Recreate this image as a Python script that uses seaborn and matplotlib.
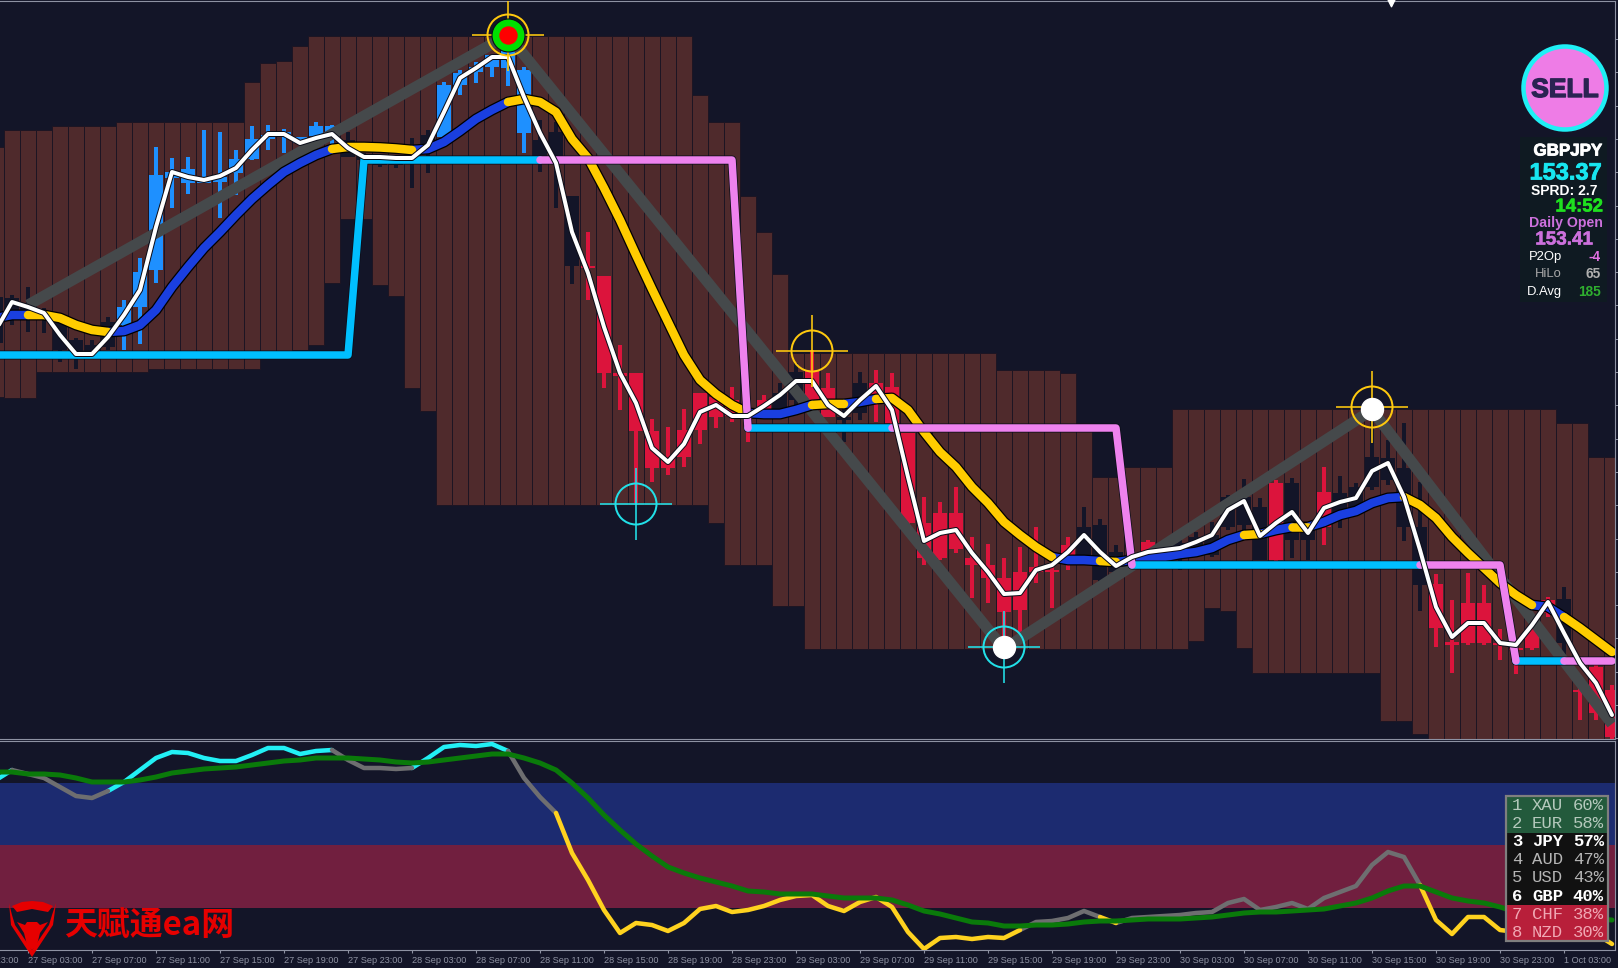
import matplotlib
matplotlib.use("Agg")
import matplotlib.patheffects as pe
import matplotlib.pyplot as plt
import numpy as np
import seaborn as sns
from matplotlib.patches import Circle, Polygon, Rectangle

# bars run from index -1 (cut off at the left edge) to 100, one bar per hour
bars = list(range(-1, 101))

# cloud behind the candles, read as chart rows (row 0 = top of window)
cloud_top = [147, 130, 130, 130, 126, 126, 126, 126, 122, 122, 122, 122, 122, 122, 122, 122, 82, 63, 61, 46,
             36, 36, 36, 36, 36, 36, 36, 36, 36, 36, 36, 36, 36, 36, 36, 36, 36, 36, 36, 36,
             36, 36, 36, 36, 95, 122, 122, 196, 232, 274, 353, 353, 353, 353, 353, 353, 353, 353, 353, 353,
             353, 353, 353, 370, 370, 370, 370, 373, 423, 477, 477, 467, 467, 467, 409, 409, 409, 409, 409, 409,
             409, 409, 409, 409, 409, 409, 409, 409, 409, 409, 409, 409, 409, 409, 409, 409, 409, 409, 423, 423,
             457, 457]
cloud_bottom = [397, 398, 398, 372, 372, 372, 372, 372, 372, 372, 369, 369, 369, 369, 369, 369, 369, 352, 352, 350,
                345, 283, 219, 219, 285, 296, 388, 411, 505, 505, 505, 505, 505, 505, 505, 505, 505, 505, 505, 505,
                505, 505, 505, 505, 505, 523, 565, 565, 565, 606, 606, 649, 649, 649, 649, 649, 649, 649, 649, 649,
                649, 649, 649, 649, 649, 649, 649, 649, 649, 649, 649, 649, 649, 649, 649, 641, 608, 611, 648, 673,
                673, 673, 673, 673, 673, 673, 673, 721, 721, 734, 739, 739, 739, 739, 739, 739, 739, 739, 739, 739,
                739, 739]

# candles
candle_kind = list("ddddddddbbbbbbbbbbbbbbddddddbbbbbbddd"
                   "rrrrrrrrrrrrddrr"
                   "dd" "rrrrrrrrrrrrr" "dddr" "rddddddd"
                   "rdd" "rddddddr" "rrrrrrrd" "rrrr")
candle_high = [290, 295, 287, 308, 320, 338, 340, 317, 300, 258, 147, 158, 157, 130, 132, 150, 126, 125, 129, 137,
               122, 125, 132, 153, 160, 158, 138, 130, 82, 70, 62, 55, 48, 67, 120, 122, 196, 232, 276, 345,
               373, 419, 427, 409, 393, 395, 387, 405, 395, 383, 363, 350, 373, 405, 372, 370, 373, 433, 497, 502,
               487, 537, 544, 558, 547, 527, 567, 537, 507, 519, 545, 556, 540, 545, 540, 532, 522, 495, 479, 498,
               480, 478, 523, 467, 476, 483, 413, 440, 423, 482, 574, 600, 573, 585, 629, 645, 622, 597, 587, 688,
               660, 685]
candle_upper = [297, 298, 305, 312, 322, 340, 345, 322, 307, 272, 175, 172, 169, 180, 177, 159, 139, 135, 132, 137,
                126, 126, 140, 155, 162, 160, 145, 135, 85, 73, 67, 55, 50, 70, 140, 132, 196, 266, 276, 373,
                373, 431, 457, 430, 393, 397, 400, 415, 400, 393, 372, 370, 388, 417, 383, 383, 387, 433, 523, 513,
                513, 558, 565, 578, 572, 567, 570, 545, 527, 525, 552, 558, 542, 548, 543, 537, 535, 497, 497, 507,
                483, 483, 530, 492, 493, 487, 457, 458, 468, 527, 584, 642, 603, 603, 643, 648, 630, 600, 599, 690,
                667, 690]
candle_lower = [343, 318, 312, 320, 350, 354, 352, 347, 325, 307, 270, 178, 183, 183, 182, 173, 159, 139, 137, 143,
                136, 140, 157, 160, 165, 165, 160, 150, 137, 85, 72, 67, 68, 133, 163, 163, 266, 268, 373, 376,
                431, 468, 468, 457, 430, 417, 416, 418, 415, 410, 400, 400, 417, 420, 413, 400, 423, 523, 558, 558,
                549, 565, 578, 612, 610, 572, 572, 563, 557, 580, 572, 562, 557, 560, 553, 553, 555, 527, 525, 560,
                560, 540, 540, 527, 518, 507, 487, 480, 527, 585, 628, 645, 643, 643, 645, 650, 648, 613, 643, 692,
                713, 737]
candle_low = [350, 325, 332, 333, 362, 369, 355, 350, 350, 344, 283, 208, 194, 183, 218, 195, 160, 150, 153, 145,
              140, 145, 157, 162, 167, 168, 188, 173, 137, 95, 83, 77, 86, 153, 172, 208, 284, 300, 388, 410,
              503, 482, 475, 467, 444, 428, 422, 442, 418, 415, 405, 402, 417, 442, 420, 422, 425, 525, 565, 560,
              553, 598, 603, 647, 633, 583, 608, 570, 560, 582, 580, 565, 560, 562, 570, 556, 557, 530, 540, 560,
              562, 558, 560, 545, 528, 510, 490, 485, 541, 611, 647, 673, 645, 645, 660, 674, 650, 617, 665, 720,
              720, 739]

# thick moving average, blue while rising and yellow while falling
slow_ma = [318, 315, 315, 315, 318, 325, 330, 332, 331, 325, 310, 287, 267, 248, 232, 215, 199, 185, 172, 163,
           155, 149, 147, 147, 147.5, 148.5, 150, 149, 142, 131, 119, 110, 102, 99, 102, 112, 139, 158, 188, 220,
           255, 289, 322, 355, 380, 394, 405, 413, 414, 414, 410, 405, 404, 404, 402, 399, 398, 410, 432, 452,
           467, 487, 503, 522, 535, 547, 557, 560, 560, 561, 562, 560, 558, 557, 554, 552, 548, 540, 535, 534,
           530, 527, 527, 522, 515, 511, 503, 498, 497, 505, 518, 537, 553, 568, 583, 595, 605, 607, 617, 628,
           640, 652]
slow_ma_blue = [(-1, 1), (6, 20), (25, 31), (46, 50), (52, 54), (65, 68), (69, 77), (78, 80), (81, 87), (95, 97)]
slow_ma_gold = [(1, 6), (20, 25), (31, 46), (50, 52), (54, 65), (68, 69), (77, 78), (80, 81), (87, 95), (97, 100)]

# thin white fast average
fast_ma = [330, 302, 307, 313, 335, 354, 354, 337, 315, 290, 227, 172, 177, 180, 176, 168, 150, 134, 134, 143,
           138, 134, 148, 157, 157, 158, 158, 145, 112, 78, 68, 57, 57, 97, 133, 163, 232, 273, 327, 373,
           403, 448, 462, 444, 412, 405, 416, 416, 406, 395, 381, 381, 405, 416, 400, 386, 410, 477, 541, 533,
           530, 553, 572, 594, 593, 570, 565, 552, 535, 552, 566, 557, 552, 550, 548, 542, 535, 510, 501, 536,
           523, 512, 533, 508, 502, 498, 471, 463, 497, 550, 607, 637, 623, 623, 643, 645, 625, 602, 633, 663,
           683, 715]

# stepped stop line
stop_line = [355] * 23 + [160] * 24 + [428] * 24 + [565] * 24 + [661] * 7
stop_cyan = [(-1, 33), (46, 55), (70, 88), (94, 97)]
stop_pink = [(33, 46), (55, 70), (88, 94), (97, 100)]

# zigzag swings
swing_bars = [1, 31, 62, 85, 100]
swing_rows = [305, 35, 649, 410, 724]

# oscillator panel
osc_line = [780, 770, 774, 778, 787, 796, 798, 791, 782, 770, 758, 752, 753, 758, 761, 761, 755, 748, 748, 754,
            751, 750, 760, 768, 768, 769, 768, 758, 747, 745, 746, 744, 751, 778, 797, 813, 853, 880, 910, 933,
            923, 925, 931, 923, 909, 906, 912, 910, 906, 900, 896, 895, 906, 911, 902, 897, 907, 932, 949, 938,
            937, 939, 937, 938, 930, 922, 921, 918, 911, 917, 923, 918, 917, 916, 915, 913, 912, 903, 899, 910,
            907, 903, 909, 898, 892, 886, 865, 852, 857, 885, 920, 934, 917, 917, 930, 932, 925, 925, 930, 936,
            934, 944]
osc_cyan = [(-1, 0), (6, 20), (25, 31)]
osc_gray = [(0, 6), (20, 25), (31, 34), (63, 68), (69, 88)]
osc_gold = [(34, 63), (68, 69), (88, 100)]
osc_signal = [772, 772, 774, 774, 775, 778, 782, 782, 782, 780, 777, 773, 771, 769, 768, 767, 765, 763, 761, 760,
              758, 758, 758, 759, 760, 762, 763, 762, 760, 758, 756, 754, 754, 758, 763, 770, 783, 798, 815, 830,
              844, 856, 867, 873, 878, 882, 886, 891, 892, 894, 894, 894, 896, 898, 898, 898, 900, 905, 911, 914,
              918, 922, 923, 926, 926, 925, 925, 924, 922, 921, 921, 920, 919, 919, 919, 918, 917, 915, 913, 912,
              912, 911, 910, 909, 906, 903, 898, 891, 886, 886, 892, 898, 901, 903, 907, 912, 914, 915, 917, 918,
              919, 920]
band_blue = (783, 845)
band_red = (845, 908)

tick_bars = list(range(-3, 98, 4))
tick_labels = ["26 Sep 23:00", "27 Sep 03:00", "27 Sep 07:00", "27 Sep 11:00", "27 Sep 15:00", "27 Sep 19:00",
               "27 Sep 23:00", "28 Sep 03:00", "28 Sep 07:00", "28 Sep 11:00", "28 Sep 15:00", "28 Sep 19:00",
               "28 Sep 23:00", "29 Sep 03:00", "29 Sep 07:00", "29 Sep 11:00", "29 Sep 15:00", "29 Sep 19:00",
               "29 Sep 23:00", "30 Sep 03:00", "30 Sep 07:00", "30 Sep 11:00", "30 Sep 15:00", "30 Sep 19:00",
               "30 Sep 23:00", "1 Oct 03:00"]

# currency strength table
rank_nums = ["1", "2", "3", "4", "5", "6", "7", "8"]
rank_names = ["XAU", "EUR", "JPY", "AUD", "USD", "GBP", "CHF", "NZD"]
rank_pcts = ["60%", "58%", "57%", "47%", "43%", "40%", "38%", "30%"]

BG = "#131528"
sns.set_theme(style="dark", rc={"axes.facecolor": BG, "figure.facecolor": BG, "axes.grid": False})
plt.rcParams["font.family"] = ["Liberation Sans", "DejaVu Sans"]

W, H = 1618, 968
fig = plt.figure(figsize=(W / 100, H / 100), dpi=100)
ax = fig.add_axes([0, (H - 739) / H, 1615 / W, 738 / H])
low = fig.add_axes([0, (H - 950) / H, 1615 / W, 209 / H])


def px(n):
    # screen pixels to points
    return n * 0.72


def draw_spans(axis, values, spans, color, width, z):
    for a, b in spans:
        idx = np.arange(a, b + 1)
        sns.lineplot(x=idx, y=[values[i + 1] for i in idx], ax=axis, color=color, linewidth=px(width),
                     estimator=None, sort=False, legend=False, zorder=z,
                     solid_capstyle="round", solid_joinstyle="round")


def crosshair(k, row, color):
    ax.scatter([k], [row], s=px(41) ** 2, facecolors="none", edgecolors=color, linewidths=px(2), zorder=9)
    ax.scatter([k], [row], s=px(73) ** 2, marker="+", color=color, linewidths=px(1.6), zorder=9)


# bar 0 sits 12 px in from the left, 16 px per bar
x_left, x_right = -12 / 16, (1615 - 12) / 16
ax.set_xlim(x_left, x_right)
ax.set_ylim(739, 1)
low.set_xlim(x_left, x_right)
low.set_ylim(950, 741)

# cloud
ax.bar(bars, np.subtract(cloud_bottom, cloud_top), bottom=cloud_top, width=1.0,
       color="#4f2a2c", edgecolor="#1d1523", linewidth=0.7, zorder=1)

# candles
candle_colors = {"b": "#1e90ff", "r": "#dc143c", "d": BG}
colors = [candle_colors[c] for c in candle_kind]
ax.bar(bars, np.subtract(candle_low, candle_high), bottom=candle_high, width=0.22, color=colors,
       edgecolor="none", linewidth=0, zorder=2)
ax.bar(bars, np.subtract(candle_lower, candle_upper), bottom=candle_upper, width=0.84, color=colors,
       edgecolor="none", linewidth=0, zorder=2)

# swings
sns.lineplot(x=swing_bars, y=swing_rows, ax=ax, color="#45494b", linewidth=px(11), estimator=None,
             sort=False, legend=False, zorder=3, solid_capstyle="butt", solid_joinstyle="miter")

# slow average with black outline
sns.lineplot(x=bars, y=slow_ma, ax=ax, color="black", linewidth=px(11), estimator=None, sort=False,
             legend=False, zorder=4)
draw_spans(ax, slow_ma, slow_ma_blue, "#1a3fe0", 8.5, 5)
draw_spans(ax, slow_ma, slow_ma_gold, "#ffcc00", 8.5, 5)

# stop line
sns.lineplot(x=bars, y=stop_line, ax=ax, color="#0b0d18", linewidth=px(9), estimator=None, sort=False,
             legend=False, zorder=6)
draw_spans(ax, stop_line, stop_cyan, "#00bfff", 7.5, 7)
draw_spans(ax, stop_line, stop_pink, "#ee82ee", 7.5, 7)

# fast average
sns.lineplot(x=bars, y=fast_ma, ax=ax, color="#0b0d18", linewidth=px(6), estimator=None, sort=False,
             legend=False, zorder=8)
sns.lineplot(x=bars, y=fast_ma, ax=ax, color="white", linewidth=px(4), estimator=None, sort=False,
             legend=False, zorder=8)

# swing markers
crosshair(31, 35, "#ffc90e")
ax.scatter([31], [35], s=px(33) ** 2, color="#00e000", edgecolors="#0b0d18", linewidths=0.8, zorder=10)
ax.scatter([31], [35], s=px(17) ** 2, color="#ff0000", zorder=11)
crosshair(50, 351, "#ffc90e")
crosshair(39, 504, "#22e0e8")
crosshair(62, 647, "#22e0e8")
ax.scatter([62], [647], s=px(22) ** 2, color="white", zorder=10)
crosshair(85, 407, "#ffc90e")
ax.scatter([85], [409], s=px(22) ** 2, color="white", zorder=10)
ax.scatter([86.2], [2], s=38, marker="v", color="white", zorder=10, clip_on=False)

# oscillator
low.axhspan(*band_blue, color="#1c2b70", lw=0, zorder=1)
low.axhspan(*band_red, color="#711f3f", lw=0, zorder=1)
draw_spans(low, osc_line, osc_cyan, "#22f0f5", 4.5, 3)
draw_spans(low, osc_line, osc_gray, "#6e6e70", 4.5, 3)
draw_spans(low, osc_line, osc_gold, "#ffd21f", 4.5, 3)
sns.lineplot(x=bars, y=osc_signal, ax=low, color="#0a7a0a", linewidth=px(5), estimator=None, sort=False,
             legend=False, zorder=4)

# axes furniture
edge = "#8e92a3"
for axis in (ax, low):
    axis.set_xlabel("")
    axis.set_ylabel("")
    for side in axis.spines:
        axis.spines[side].set_color(edge)
        axis.spines[side].set_linewidth(0.8)
    axis.spines["left"].set_visible(False)

ax.set_xticks([])
ax.yaxis.tick_right()
ax.set_yticks(np.arange(39, 739, 33.3))
ax.tick_params(axis="y", length=2.2, width=0.7, color=edge, labelright=False, right=True)
low.set_yticks([])
low.set_xticks(tick_bars[1:])
low.set_xticklabels([])
low.tick_params(axis="x", length=2.4, width=0.8, color=edge, bottom=True)
for k, label in zip(tick_bars, tick_labels):
    low.annotate(label, (k, 950), xytext=(0.3, -7.2), textcoords="offset points", annotation_clip=False,
                 ha="left", va="center", fontsize=6.6, color="#8f93a3")

# overlay drawn in window pixels for the panels
top = fig.add_axes([0, 0, 1, 1], facecolor="none")
top.set_xlim(0, W)
top.set_ylim(H, 0)
top.axis("off")


def heavy(color, width):
    return [pe.withStroke(linewidth=width, foreground=color)]


# info panel
top.add_patch(Rectangle((1520, 137), 87, 165, facecolor="#0f1a22", edgecolor="none", zorder=1))
top.add_patch(Circle((1565, 88), 41.5, facecolor="#ee7ce6", edgecolor="#1ff0f5", linewidth=px(4.5), zorder=2))
top.text(1565, 90, "SELL", ha="center", va="center", fontsize=19, fontweight="bold", color="#2b2352", zorder=3,
         path_effects=heavy("#2b2352", 1.0))


def info(x, y, s, color, size, ha="right", weight="bold", stroke=0.0):
    t = top.text(x, y, s, ha=ha, va="center", fontsize=size, fontweight=weight, color=color, zorder=3)
    if stroke:
        t.set_path_effects(heavy(color, stroke))


info(1602, 151, "GBPJPY", "white", 12.2, stroke=0.6)
info(1602, 173, "153.37", "#18e6f0", 17, stroke=0.6)
info(1598, 191, "SPRD: 2.7", "white", 10)
info(1603, 207, "14:52", "#1fe01f", 13.4, stroke=0.4)
info(1603, 223, "Daily Open", "#cc70dc", 10.2)
info(1593, 240, "153.41", "#cc70dc", 13.6, stroke=0.4)
info(1562, 257, "P2Op", "white", 9.4, weight="normal")
info(1601, 257, "-4", "#e070e0", 9.8)
info(1562, 274, "HiLo", "#a8a8a8", 9.4, weight="normal")
info(1601, 274, "65", "#b0b0b0", 9.8)
info(1562, 292, "D.Avg", "white", 9.4, weight="normal")
info(1601, 292, "185", "#2fae2f", 9.8)

# rank table
table_fill = ["#235a3c"] * 2 + ["#111111"] * 4 + ["#b81f3a"] * 2
table_text = ["#b5c9bc", "#b5c9bc", "white", "#b5b5b5", "#b5b5b5", "white", "#f0a8b4", "#f0a8b4"]
table_bold = [False, False, True, False, False, True, False, False]
mono = ["Liberation Mono", "DejaVu Sans Mono"]
row_h = 18.1
for i in range(8):
    row_y = 796.5 + row_h * i
    top.add_patch(Rectangle((1506.5, row_y), 101, row_h, facecolor=table_fill[i], edgecolor="none", zorder=2))
    kw = dict(va="center", fontsize=12.4, color=table_text[i], family=mono, zorder=3,
              fontweight="bold" if table_bold[i] else "normal")
    top.text(1512, row_y + row_h / 2, rank_nums[i], ha="left", **kw)
    top.text(1532, row_y + row_h / 2, rank_names[i], ha="left", **kw)
    top.text(1604, row_y + row_h / 2, rank_pcts[i], ha="right", **kw)
top.add_patch(Rectangle((1506, 795.5), 102, 145.5, facecolor="none", edgecolor="#7f7f7f", linewidth=px(2.2), zorder=4))

# watermark
logo_red = "#e60000"
top.add_patch(Polygon([(9, 903), (11, 925), (32, 957), (53, 925), (56, 903), (52, 915), (49, 925), (32, 950),
                       (15, 925), (12, 915)], facecolor=logo_red, edgecolor="none", zorder=5))
top.add_patch(Polygon([(12, 906), (22, 902), (32, 901), (43, 902), (53, 906), (48, 912), (32, 909), (17, 912)],
                      facecolor=logo_red, edgecolor="none", zorder=5))
top.add_patch(Polygon([(17, 922), (25, 925), (27, 922), (37, 922), (40, 925), (48, 922), (40, 933), (37, 945),
                       (32, 950), (27, 945), (24, 933)], facecolor=logo_red, edgecolor="none", zorder=5))
top.text(64, 926, "天赋通ea网", ha="left", va="center", fontsize=23.7, fontweight="bold", color=logo_red,
         family=["Noto Sans CJK SC", "DejaVu Sans"], zorder=5)

fig.savefig("out.png", dpi=100, facecolor=BG)
